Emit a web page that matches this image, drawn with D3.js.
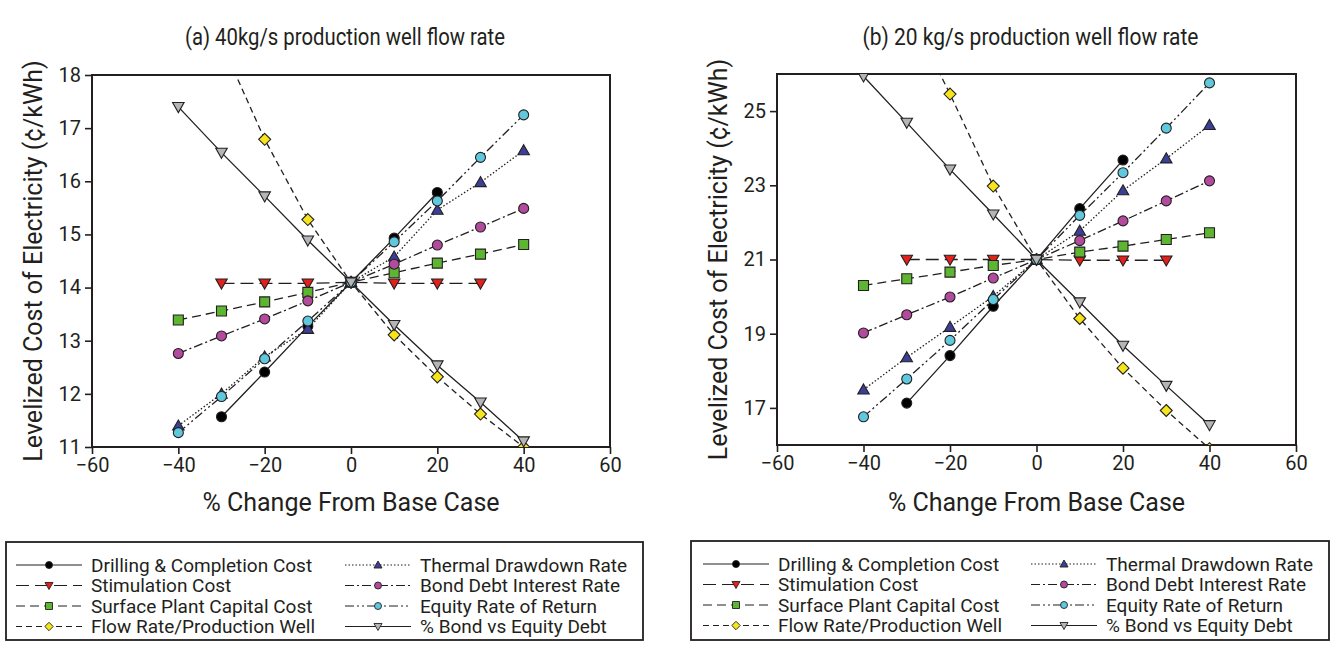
<!DOCTYPE html>
<html><head><meta charset="utf-8">
<script src="https://cdn.jsdelivr.net/npm/d3@7"></script>
<style>
body{margin:0;background:#fff}
text{font-family:Roboto,"Noto Sans",sans-serif;fill:#231f20}
</style>
</head><body>
<svg id="c" width="1335" height="646"></svg>
<script>
// ---------- DATA ----------
const xValues = [-40, -30, -20, -10, 0, 10, 20, 30, 40];
const xTicks = [-60, -40, -20, 0, 20, 40, 60];
const yTicksA = [11, 12, 13, 14, 15, 16, 17, 18];
const yTicksB = [17, 19, 21, 23, 25];
const seriesNames = ["Drilling & Completion Cost", "Stimulation Cost", "Surface Plant Capital Cost",
  "Flow Rate/Production Well", "Thermal Drawdown Rate", "Bond Debt Interest Rate",
  "Equity Rate of Return", "% Bond vs Equity Debt"];
const titles = ["(a) 40kg/s production well flow rate", "(b) 20 kg/s production well flow rate"];
const xLabel = "% Change From Base Case";
const yLabel = "Levelized Cost of Electricity (¢/kWh)";

// (a) 40 kg/s
const drillingA   = [null, 11.57, 12.41, 13.27, 14.1, 14.93, 15.79, null, null];
const stimA       = [null, 14.08, 14.08, 14.08, 14.1, 14.08, 14.08, 14.08, null];
const surfaceA    = [13.39, 13.56, 13.73, 13.91, 14.1, 14.28, 14.46, 14.63, 14.81];
const flowA       = [null, 18.6, 16.79, 15.28, 14.1, 13.11, 12.32, 11.62, 11.0];
const thermalA    = [11.40, 12.0, 12.7, 13.22, 14.1, 14.58, 15.46, 15.98, 16.58];
const bondA       = [12.76, 13.09, 13.41, 13.75, 14.1, 14.44, 14.80, 15.14, 15.49];
const equityA     = [11.27, 11.95, 12.66, 13.37, 14.1, 14.86, 15.63, 16.45, 17.25];
const bondEquityA = [17.40, 16.54, 15.72, 14.89, 14.1, 13.30, 12.54, 11.84, 11.11];

// (b) 20 kg/s
const drillingB   = [null, 17.13, 18.41, 19.74, 21.0, 22.37, 23.68, null, null];
const stimB       = [null, 21.0, 21.0, 21.0, 21.0, 20.98, 20.98, 20.98, null];
const surfaceB    = [20.30, 20.48, 20.66, 20.84, 21.0, 21.2, 21.36, 21.54, 21.72];
const flowB       = [null, 27.8, 25.46, 22.98, 21.0, 19.41, 18.07, 16.93, 15.9];
const thermalB    = [17.49, 18.36, 19.18, 20.01, 21.0, 21.77, 22.86, 23.72, 24.62];
const bondB       = [19.02, 19.51, 19.99, 20.50, 21.0, 21.51, 22.04, 22.58, 23.12];
const equityB     = [16.76, 17.78, 18.82, 19.92, 21.0, 22.19, 23.34, 24.54, 25.76];
const bondEquityB = [25.94, 24.69, 23.43, 22.22, 21.0, 19.85, 18.68, 17.60, 16.54];

// ---------- STYLES ----------
const ink = "#231f20";
const styles = [
  {shape: "circle",  fill: "#000000", dash: null},
  {shape: "triDown", fill: "#e3211c", dash: "13,6"},
  {shape: "square",  fill: "#5db532", dash: "9,5"},
  {shape: "diamond", fill: "#f6e51b", dash: "6,4"},
  {shape: "triUp",   fill: "#3b3f96", dash: "1.5,2"},
  {shape: "circle",  fill: "#b24a9e", dash: "9,3,2,3"},
  {shape: "circle",  fill: "#60c8dc", dash: "9,3,2,3,2,3"},
  {shape: "triDown", fill: "#b5b5b5", dash: null}
];

function markerPath(shape, s) {
  const h = s / 2;
  switch (shape) {
    case "circle": return d3.symbol(d3.symbolCircle, Math.PI * h * h)();
    case "square": return `M${-h},${-h}H${h}V${h}H${-h}Z`;
    case "diamond": { const d = h * 1.2; return `M0,${-d}L${d},0L0,${d}L${-d},0Z`; }
    case "triUp": { const a = h * 1.15; return `M0,${-a}L${a},${a * 0.75}L${-a},${a * 0.75}Z`; }
    case "triDown": { const a = h * 1.15; return `M0,${a}L${a},${-a * 0.75}L${-a},${-a * 0.75}Z`; }
  }
}

const svg = d3.select("#c");

function drawChart(cfg) {
  const {x0, x1, y0, y1, yDomain, yTicks, title, titleLen, data, id} = cfg;
  const x = d3.scaleLinear().domain([-60, 60]).range([x0, x1]);
  const y = d3.scaleLinear().domain(yDomain).range([y1, y0]);
  const g = svg.append("g");

  g.append("defs").append("clipPath").attr("id", id)
    .append("rect").attr("x", x0).attr("y", y0).attr("width", x1 - x0).attr("height", y1 - y0);

  g.append("rect").attr("x", x0).attr("y", y0).attr("width", x1 - x0).attr("height", y1 - y0)
    .attr("fill", "none").attr("stroke", ink).attr("stroke-width", 2);

  const xa = g.append("g").attr("transform", `translate(0,${y1})`)
    .call(d3.axisBottom(x).tickValues(xTicks).tickSize(7).tickPadding(4).tickFormat(d3.format("d")));
  const ya = g.append("g").attr("transform", `translate(${x0},0)`)
    .call(d3.axisLeft(y).tickValues(yTicks).tickSize(7).tickPadding(4).tickFormat(d3.format("d")));
  [xa, ya].forEach(a => {
    a.select(".domain").remove();
    a.selectAll(".tick line").attr("stroke", ink).attr("stroke-width", 1.6);
    a.selectAll(".tick text").attr("fill", ink).style("font-size", "20px").style("font-family", "Roboto");
  });

  const plot = g.append("g").attr("clip-path", `url(#${id})`);
  const line = d3.line().defined(d => d[1] != null).x(d => x(d[0])).y(d => y(d[1]));

  data.forEach((vals, i) => {
    const pts = xValues.map((xv, j) => [xv, vals[j]]);
    plot.append("path").attr("d", line(pts)).attr("fill", "none")
      .attr("stroke", ink).attr("stroke-width", 1.3)
      .attr("stroke-dasharray", styles[i].dash);
  });
  data.forEach((vals, i) => {
    const pts = xValues.map((xv, j) => [xv, vals[j]]).filter(d => d[1] != null);
    plot.selectAll(null).data(pts).join("path")
      .attr("transform", d => `translate(${x(d[0])},${y(d[1])})`)
      .attr("d", markerPath(styles[i].shape, 10))
      .attr("fill", styles[i].fill).attr("stroke", ink).attr("stroke-width", 1.1);
  });

  g.append("text").attr("x", (x0 + x1) / 2 - 6).attr("y", 45).attr("text-anchor", "middle")
    .attr("textLength", titleLen).attr("lengthAdjust", "spacingAndGlyphs")
    .style("font-size", "24px").text(title);
  g.append("text").attr("x", (x0 + x1) / 2).attr("y", 511).attr("text-anchor", "middle")
    .style("font-size", "25px").text(xLabel);
  g.append("text").attr("transform", `translate(${x0 - 50},${(y0 + y1) / 2}) rotate(-90)`)
    .attr("text-anchor", "middle").style("font-size", "25px").text(yLabel);
}

drawChart({id: "ca", x0: 92, x1: 610, y0: 75, y1: 447, yDomain: [11, 18], yTicks: yTicksA,
  title: titles[0], titleLen: 320,
  data: [drillingA, stimA, surfaceA, flowA, thermalA, bondA, equityA, bondEquityA]});
drawChart({id: "cb", x0: 777, x1: 1296, y0: 74, y1: 445, yDomain: [16, 26], yTicks: yTicksB,
  title: titles[1], titleLen: 336,
  data: [drillingB, stimB, surfaceB, flowB, thermalB, bondB, equityB, bondEquityB]});

// ---------- LEGENDS ----------
function drawLegend(bx, by, bw, bh, cols) {
  const g = svg.append("g");
  g.append("rect").attr("x", bx).attr("y", by).attr("width", bw).attr("height", bh)
    .attr("fill", "none").attr("stroke", ink).attr("stroke-width", 1.8);
  seriesNames.forEach((name, i) => {
    const c = Math.floor(i / 4), r = i % 4;
    const cy = by + 23 + r * 20.5;
    const lx0 = cols[c], lx1 = cols[c] + 66;
    g.append("line").attr("x1", lx0).attr("x2", lx1).attr("y1", cy).attr("y2", cy)
      .attr("stroke", ink).attr("stroke-width", 1.2).attr("stroke-dasharray", styles[i].dash);
    g.append("path").attr("transform", `translate(${(lx0 + lx1) / 2},${cy})`)
      .attr("d", markerPath(styles[i].shape, 7))
      .attr("fill", styles[i].fill).attr("stroke", ink).attr("stroke-width", 0.9);
    g.append("text").attr("x", lx1 + 9).attr("y", cy + 6.5).style("font-size", "19px").text(name);
  });
}
drawLegend(6, 542, 637, 98, [16, 345]);
drawLegend(691, 541, 638, 99, [703, 1031]);
</script>
</body></html>
